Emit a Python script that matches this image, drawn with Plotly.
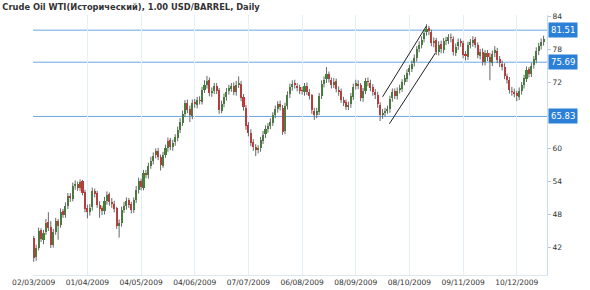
import plotly.graph_objects as go

# ---------------- data ----------------
tick_labels = ["02/03/2009", "01/04/2009", "04/05/2009", "04/06/2009", "07/07/2009",
               "06/08/2009", "08/09/2009", "08/10/2009", "09/11/2009", "10/12/2009"]
tick_index = [0, 22, 44, 66, 88, 110, 132, 154, 176, 198]

opens = [
    43.8, 40.2, 41.9, 45.2, 43.3, 44.8, 46.6, 45.8, 42.4, 44.9,
    46.9, 46.1, 48.6, 47.9, 49.5, 51.4, 50.9, 53.1, 53.6, 52.8,
    54.0, 52.1, 49.1, 48.4, 49.3, 52.3, 51.9, 49.7, 49.1, 48.6,
    50.4, 51.7, 50.2, 50.0, 49.1, 45.9, 46.4, 48.9, 49.5, 50.6,
    49.9, 48.8, 50.7, 52.4, 54.1, 52.9, 55.6, 55.1, 56.9, 57.7,
    58.8, 59.6, 58.4, 56.9, 58.9, 60.0, 61.5, 60.2, 61.1, 61.9,
    63.4, 64.7, 66.3, 68.3, 67.1, 65.9, 68.4, 67.9, 68.9, 68.5,
    70.7, 71.5, 72.4, 70.0, 70.5, 71.4, 70.6, 66.9, 68.1, 69.3,
    70.4, 70.9, 71.4, 70.2, 71.6, 71.8, 69.3, 67.4, 64.2, 62.9,
    61.1, 60.2, 59.7, 60.1, 61.4, 62.6, 63.5, 64.1, 64.7, 66.1,
    67.1, 68.1, 67.4, 63.1, 67.7, 69.9, 71.1, 71.9, 71.4, 71.1,
    70.6, 70.3, 71.4, 70.2, 69.7, 66.9, 66.1, 66.7, 69.6, 71.7,
    72.6, 73.6, 72.5, 71.5, 72.2, 70.7, 70.4, 68.8, 68.4, 67.5,
    68.0, 69.4, 71.3, 71.8, 71.5, 69.1, 70.5, 72.3, 71.9, 71.1,
    70.2, 69.8, 67.9, 66.1, 66.4, 66.9, 67.1, 69.1, 70.4, 69.5,
    70.6, 70.9, 72.1, 72.7, 73.9, 74.5, 75.5, 76.4, 78.1, 78.8,
    79.9, 81.1, 81.9, 81.2, 79.1, 79.7, 77.5, 79.0, 77.9, 79.6,
    79.6, 80.3, 79.9, 77.4, 78.6, 79.5, 79.1, 77.1, 76.7, 78.9,
    79.2, 79.9, 78.8, 76.9, 77.6, 75.7, 77.4, 76.7, 75.6, 77.3,
    77.8, 76.2, 75.4, 74.9, 73.1, 72.5, 70.5, 70.3, 70.0, 69.4,
    70.4, 71.6, 72.7, 74.4, 73.5, 75.1, 76.1, 77.7, 78.7, 79.3,
]
highs = [
    44.1, 42.5, 45.6, 45.5, 45.2, 47.2, 48.4, 46.8, 45.4, 47.4,
    47.2, 49.1, 49.0, 50.2, 51.9, 51.9, 53.8, 54.2, 54.0, 54.4,
    54.3, 52.5, 49.8, 49.9, 52.9, 52.7, 52.3, 50.4, 49.6, 51.2,
    52.2, 52.0, 51.0, 50.5, 49.4, 47.1, 49.4, 50.3, 51.1, 51.0,
    50.3, 51.1, 53.2, 54.7, 54.5, 56.1, 56.1, 57.4, 58.5, 59.3,
    60.0, 60.1, 58.9, 59.4, 60.7, 62.0, 61.9, 61.6, 62.6, 64.0,
    65.5, 66.9, 68.8, 68.9, 67.8, 68.9, 69.0, 69.4, 69.5, 71.2,
    72.4, 73.2, 72.9, 71.1, 71.9, 71.9, 71.0, 68.7, 70.0, 71.0,
    71.6, 71.9, 72.0, 72.3, 73.1, 72.3, 69.9, 67.9, 64.8, 63.5,
    61.7, 60.8, 60.6, 62.1, 63.2, 64.2, 64.6, 65.5, 66.6, 67.8,
    68.6, 68.7, 67.9, 68.3, 70.4, 71.8, 72.4, 72.5, 71.9, 71.6,
    71.2, 71.9, 72.0, 70.8, 69.9, 67.4, 67.4, 70.1, 72.4, 73.1,
    74.8, 74.0, 72.9, 72.8, 72.7, 71.3, 70.9, 69.4, 68.9, 68.5,
    70.1, 71.8, 72.5, 72.4, 71.9, 71.0, 72.8, 72.9, 72.5, 71.7,
    70.8, 70.3, 68.4, 67.2, 67.4, 67.8, 69.6, 70.9, 70.9, 71.1,
    71.6, 72.6, 73.4, 74.4, 75.2, 76.0, 77.1, 78.6, 79.5, 80.4,
    81.6, 82.6, 82.3, 81.6, 80.2, 80.1, 79.5, 79.6, 80.1, 80.3,
    80.8, 80.9, 80.4, 79.1, 80.0, 80.0, 79.6, 77.7, 79.4, 79.9,
    80.4, 80.3, 79.3, 78.1, 78.2, 77.9, 77.9, 77.4, 77.8, 78.6,
    78.3, 76.8, 76.0, 75.5, 73.6, 73.0, 71.2, 70.9, 70.5, 71.1,
    72.1, 73.4, 74.9, 74.8, 75.6, 76.8, 78.4, 79.2, 80.0, 80.5,
]
lows = [
    39.4, 39.6, 41.5, 43.0, 42.6, 44.3, 45.0, 41.9, 42.0, 44.3,
    43.4, 45.6, 47.4, 47.4, 49.0, 50.3, 50.4, 52.5, 52.3, 52.3,
    51.5, 48.4, 47.3, 47.8, 48.7, 51.1, 49.2, 47.4, 47.9, 48.0,
    49.8, 49.6, 49.2, 48.4, 45.4, 43.8, 45.8, 48.3, 48.9, 49.2,
    48.2, 48.3, 50.1, 51.8, 52.4, 52.4, 54.6, 54.5, 56.3, 57.1,
    58.2, 57.9, 56.0, 56.5, 58.3, 59.4, 59.7, 59.6, 60.5, 61.3,
    62.8, 64.1, 65.7, 66.4, 64.8, 65.3, 67.4, 67.3, 68.0, 68.0,
    70.1, 70.9, 69.5, 69.4, 69.9, 69.9, 66.3, 66.4, 67.5, 68.7,
    69.8, 70.3, 69.7, 69.6, 71.0, 68.6, 66.9, 63.4, 62.2, 60.4,
    59.6, 58.6, 59.1, 59.4, 60.8, 61.9, 62.9, 63.5, 64.1, 65.5,
    66.5, 66.9, 62.5, 62.6, 67.1, 69.2, 70.5, 70.9, 70.4, 69.9,
    69.8, 69.6, 69.7, 68.9, 66.3, 65.2, 65.5, 66.1, 69.0, 71.1,
    71.9, 72.0, 70.9, 71.0, 70.2, 69.6, 68.3, 67.7, 67.0, 67.0,
    67.4, 68.8, 70.7, 70.8, 68.6, 68.5, 69.9, 71.3, 70.4, 69.6,
    69.0, 67.4, 65.0, 65.4, 65.8, 66.3, 66.5, 68.5, 69.0, 68.9,
    70.0, 70.3, 71.5, 72.1, 73.3, 73.9, 74.9, 75.8, 77.5, 78.2,
    79.3, 80.5, 80.6, 78.6, 78.4, 77.0, 76.9, 77.3, 77.3, 78.8,
    79.0, 79.3, 76.9, 76.8, 77.9, 78.5, 76.4, 76.0, 76.1, 78.2,
    78.5, 78.3, 76.4, 76.2, 75.1, 75.1, 75.9, 72.4, 75.0, 76.6,
    75.5, 74.8, 74.2, 72.6, 71.8, 70.0, 69.6, 69.3, 68.6, 68.8,
    69.8, 70.9, 72.1, 72.9, 73.0, 74.5, 75.5, 77.0, 78.0, 78.7,
]
closes = [
    40.1, 42.0, 45.0, 43.5, 44.6, 46.5, 45.6, 42.5, 44.8, 46.8,
    46.0, 48.5, 48.0, 49.6, 51.3, 51.0, 53.2, 53.5, 52.9, 53.9,
    52.0, 49.0, 48.5, 49.2, 52.2, 51.8, 49.8, 49.0, 48.7, 50.5,
    51.6, 50.3, 49.9, 49.0, 46.0, 46.5, 48.8, 49.6, 50.5, 49.8,
    48.9, 50.6, 52.5, 54.0, 53.0, 55.5, 55.2, 56.8, 57.8, 58.7,
    59.5, 58.5, 57.0, 58.8, 60.1, 61.4, 60.3, 61.0, 62.0, 63.3,
    64.8, 66.2, 68.2, 67.0, 66.0, 68.3, 68.0, 68.8, 68.6, 70.6,
    71.6, 72.3, 70.1, 70.4, 71.3, 70.5, 67.0, 68.0, 69.4, 70.3,
    71.0, 71.3, 70.3, 71.5, 71.9, 69.2, 67.5, 64.0, 62.8, 61.0,
    60.3, 59.8, 60.0, 61.5, 62.5, 63.6, 64.0, 64.8, 66.0, 67.2,
    68.0, 67.5, 63.0, 67.8, 69.8, 71.2, 71.8, 71.5, 71.0, 70.5,
    70.4, 71.3, 70.3, 69.6, 67.0, 66.0, 66.8, 69.5, 71.8, 72.5,
    73.5, 72.6, 71.6, 72.1, 70.8, 70.3, 68.9, 68.3, 67.6, 67.9,
    69.5, 71.2, 71.9, 71.4, 69.2, 70.4, 72.2, 72.0, 71.0, 70.3,
    69.7, 68.0, 66.0, 66.5, 66.8, 67.2, 69.0, 70.3, 69.6, 70.5,
    71.0, 72.0, 72.8, 73.8, 74.6, 75.4, 76.5, 78.0, 78.9, 79.8,
    81.0, 81.8, 81.3, 79.2, 79.6, 77.6, 78.9, 78.0, 79.5, 79.7,
    80.2, 80.0, 77.5, 78.5, 79.4, 79.2, 77.0, 76.8, 78.8, 79.3,
    79.8, 78.9, 77.0, 77.5, 75.8, 77.3, 76.6, 75.7, 77.2, 77.9,
    76.1, 75.5, 74.8, 73.2, 72.4, 70.6, 70.2, 69.9, 69.5, 70.5,
    71.5, 72.8, 74.3, 73.6, 75.0, 76.2, 77.8, 78.6, 79.4, 79.9,
]

levels = [81.51, 75.69, 65.83]
level_labels = ["81.51", "75.69", "65.83"]

# trend channel (bar index, price)
channel_upper_x = [143, 161]
channel_upper_y = [69.4, 82.3]
channel_lower_x = [145.8, 164.7]
channel_lower_y = [64.5, 77.4]

y_ticks = [42, 48, 54, 60, 66, 72, 78, 84]
y_tick_text = ["42", "48", "54", "60", "", "72", "78", "84"]

title_text = "Crude Oil WTI(Исторический), 1.00 USD/BARREL, Daily"

# ---------------- figure ----------------
n = min(len(opens), len(highs), len(lows), len(closes))
idx = list(range(n))

GREEN = "#2f8f1f"
RED = "#ff1a1a"
WICK = "#666666"

wx, wy = [], []
for i in idx:
    wx += [i, i, None]
    wy += [lows[i], highs[i], None]

body_base = [min(opens[i], closes[i]) for i in idx]
body_h = [max(abs(closes[i] - opens[i]), 0.15) for i in idx]
body_col = [GREEN if closes[i] >= opens[i] else RED for i in idx]

fig = go.Figure()
fig.add_trace(go.Scatter(x=wx, y=wy, mode="lines",
                         line=dict(color=WICK, width=1), hoverinfo="skip",
                         showlegend=False))
fig.add_trace(go.Bar(x=idx, y=body_h, base=body_base, width=0.85,
                     marker=dict(color=body_col, line=dict(width=0)),
                     hoverinfo="skip", showlegend=False))

for lv in levels:
    fig.add_shape(type="line", xref="paper", yref="y", x0=0, x1=1, y0=lv, y1=lv,
                  line=dict(color="#6aa6e2", width=1), layer="below")

fig.add_shape(type="line", xref="x", yref="y",
              x0=channel_upper_x[0], x1=channel_upper_x[1],
              y0=channel_upper_y[0], y1=channel_upper_y[1],
              line=dict(color="#222222", width=1))
fig.add_shape(type="line", xref="x", yref="y",
              x0=channel_lower_x[0], x1=channel_lower_x[1],
              y0=channel_lower_y[0], y1=channel_lower_y[1],
              line=dict(color="#222222", width=1))

for lv, lt in zip(levels, level_labels):
    fig.add_annotation(xref="paper", yref="y", x=1, y=lv, text=lt,
                       xanchor="left", yanchor="middle", showarrow=False,
                       xshift=1, bgcolor="#2b7fd6", borderpad=2,
                       font=dict(family="DejaVu Sans", size=8.5, color="white"))

fig.update_layout(
    width=590, height=290,
    margin=dict(l=33, r=43, t=15, b=15, autoexpand=False),
    paper_bgcolor="white", plot_bgcolor="white",
    bargap=0, showlegend=False,
    title=dict(text="<b>" + title_text + "</b>", x=0.004, xanchor="left",
               xref="container", y=0.985, yanchor="top", yref="container",
               font=dict(family="DejaVu Sans", size=8.3, color="#333333")),
    xaxis=dict(range=[-0.3, 210.4], tickmode="array", tickvals=tick_index,
               ticktext=tick_labels, showgrid=True, gridcolor="#e4eef6",
               gridwidth=1, zeroline=False, showline=True, linecolor="#dce8f2",
               ticks="", automargin=False,
               tickfont=dict(family="DejaVu Sans", size=7.5, color="#333333"),
               fixedrange=True),
    yaxis=dict(range=[37.0, 84.27], side="right", tickmode="array",
               tickvals=y_ticks, ticktext=y_tick_text, showgrid=False,
               zeroline=False, showline=True, linecolor="#c8dbee",
               ticks="outside", ticklen=3, tickcolor="#b0c8e0", automargin=False,
               tickfont=dict(family="DejaVu Sans", size=7.5, color="#333333"),
               fixedrange=True),
)

fig.write_html("out.html", config={"displayModeBar": False, "staticPlot": True})
